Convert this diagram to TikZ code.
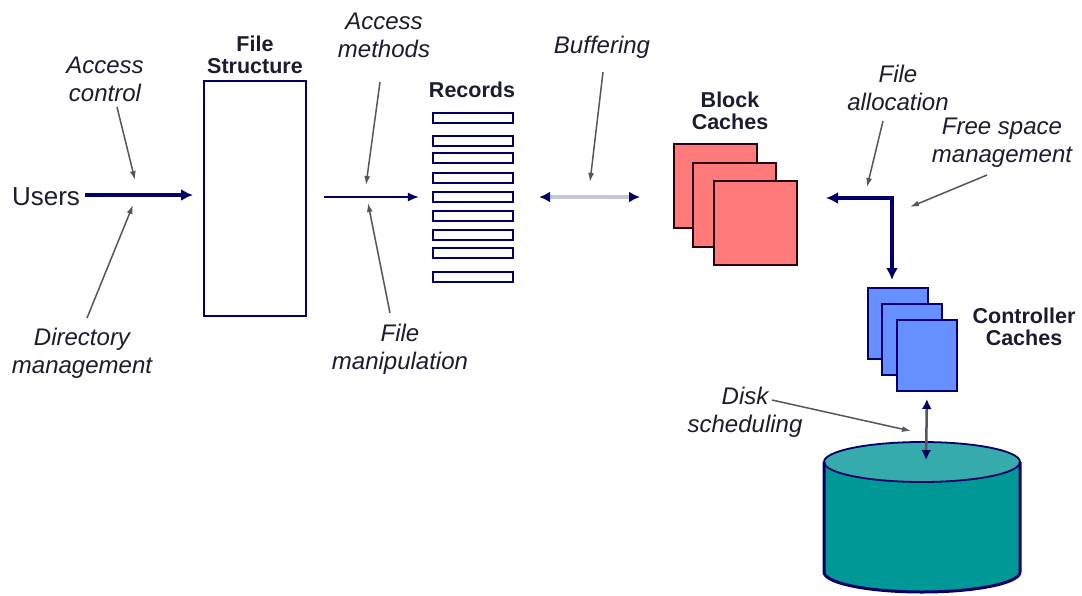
\documentclass[tikz,border=0pt]{standalone}
\usepackage{fontspec}
\setmainfont{Liberation Sans}
\usetikzlibrary{arrows.meta}
\definecolor{navy}{HTML}{000066}
\definecolor{ptr}{HTML}{55555F}
\definecolor{salmon}{HTML}{FF7B7B}
\definecolor{cblue}{HTML}{6690FF}
\definecolor{tealA}{HTML}{009797}
\definecolor{tealB}{HTML}{35ABAB}
\definecolor{shaft}{HTML}{C6C6DA}
\definecolor{txt}{HTML}{1C1C30}
\definecolor{redline}{HTML}{2A0010}
\begin{document}
\begin{tikzpicture}[x=1pt,y=-1pt,
  lbl/.style={font=\fontsize{24}{28}\selectfont\itshape, text=txt, align=center, inner sep=0pt},
  ttl/.style={font=\fontsize{21.5}{22}\selectfont\bfseries, text=txt, align=center, inner sep=0pt},
  pointer/.style={draw=ptr, line width=1.5pt, -{Latex[length=9pt,width=6pt]}},
  heavy/.style={draw=navy, line width=4.5pt, -{Latex[length=12pt,width=12pt]}},
  twoway/.style={draw=shaft, line width=4.5pt, {Latex[length=11pt,width=11pt,color=navy]}-{Latex[length=11pt,width=11pt,color=navy]}},
  recbox/.style={draw=navy, line width=2.2pt, fill=white, minimum width=80pt, minimum height=10.5pt, inner sep=0pt},
  redsq/.style={draw=redline, line width=2pt, fill=salmon, minimum width=83pt, minimum height=84pt, anchor=north west, inner sep=0pt},
  bluesq/.style={draw=navy, line width=2pt, fill=cblue, minimum width=60pt, minimum height=71pt, anchor=north west, inner sep=0pt}
]
\useasboundingbox (0,0) rectangle (1082,595);
\fill[white] (0,0) rectangle (1082,595);

% ---- users and file structure
\node[font=\fontsize{26}{26}\selectfont, text=txt, inner sep=0pt] (users) at (46,197) {Users};
\node[draw=navy, line width=2.4pt, fill=white, minimum width=102pt, minimum height=235pt, anchor=north west, inner sep=0pt] (fs) at (203,80) {};
\node[ttl] (fstitle) at (255,55) {File\\Structure};
\draw[heavy, shorten <=5pt, shorten >=10pt] (users.east |- 0,195) coordinate (uA) -- (fs.west |- uA);

\node[lbl] (acc) at (105,79) {Access\\control};
\node[lbl] (dir) at (82,353) {Directory\\management};
\coordinate (acS) at (117,107); \coordinate (acE) at (135,180);
\coordinate (dmS) at (87,318);  \coordinate (dmE) at (133,205);
\draw[pointer] (acS) -- (acE);
\draw[pointer] (dmS) -- (dmE);

% ---- records
\node[ttl] (rectitle) at (472,90) {Records};
\foreach \i/\y in {1/118,2/141,3/158,4/178,5/197,6/216,7/235,8/253,9/277}
  \node[recbox] (r\i) at (473,\y) {};
\draw[draw=navy, line width=1.5pt, -{Latex[length=11pt,width=9pt]}, shorten <=17pt, shorten >=13pt] (fs.east |- r5) -- (r5.west);

\node[lbl] (accm) at (384,35) {Access\\methods};
\node[lbl] (fman) at (400,349) {File\\manipulation};
\coordinate (amS) at (380,82); \coordinate (amE) at (366,185);
\coordinate (fmS) at (390,313); \coordinate (fmE) at (368,203);
\draw[pointer] (amS) -- (amE);
\draw[pointer] (fmS) -- (fmE);

% ---- block caches
\node[redsq] (bc1) at (673,143) {};
\node[redsq] (bc2) at (692,162) {};
\node[redsq] (bc3) at (713,180) {};
\node[ttl] (bctitle) at (730,111) {Block\\Caches};
\draw[twoway, shorten <=25pt, shorten >=33pt] (r5.east) -- (r5.east -| bc1.west);

\node[lbl] (buf) at (602,47) {Buffering};
\coordinate (buS) at (603,72); \coordinate (buE) at (590,182);
\draw[pointer] (buS) -- (buE);

% ---- controller caches
\node[bluesq] (cc1) at (867,287) {};
\node[bluesq] (cc2) at (881,303) {};
\node[bluesq] (cc3) at (896,319) {};
\node[ttl] (cctitle) at (1024,327) {Controller\\Caches};

\coordinate (corner) at (892,198);
\draw[draw=navy, line width=4.5pt, {Latex[length=12pt,width=12pt]}-{Latex[length=12pt,width=12pt]}, shorten <=28pt, shorten >=7pt]
  (corner -| bc3.east) -| (corner |- cc1.north);

\node[lbl] (falloc) at (898,88) {File\\allocation};
\node[lbl] (fsm) at (1002,143) {Free space\\management};
\coordinate (faS) at (883,121); \coordinate (faE) at (867,187);
\coordinate (fsS) at (987,175); \coordinate (fsE) at (910,207);
\draw[pointer] (faS) -- (faE);
\draw[pointer] (fsS) -- (fsE);

% ---- disk
\coordinate (disktop) at (926,462);
\fill[tealA] (824,462) -- (824,572) arc[start angle=180, end angle=360, x radius=98pt, y radius=20pt] -- (1020,462) -- cycle;
\filldraw[fill=tealB, draw=navy, line width=1.8pt] (922,462) ellipse[x radius=98pt, y radius=20pt];
\draw[navy, line width=3pt] (824,462) -- (824,572) arc[start angle=180, end angle=360, x radius=98pt, y radius=20pt] -- (1020,462);

\draw[draw=ptr, line width=2.5pt, {Latex[length=10pt,width=10pt,color=navy]}-{Latex[length=10pt,width=10pt,color=navy]}, shorten <=7pt, shorten >=2pt]
  (cc3.south) -- (disktop);

\node[lbl] (dsch) at (745,412) {Disk\\scheduling};
\coordinate (dsS) at (772,400); \coordinate (dsE) at (911,431);
\draw[pointer] (dsS) -- (dsE);
\end{tikzpicture}
\end{document}
